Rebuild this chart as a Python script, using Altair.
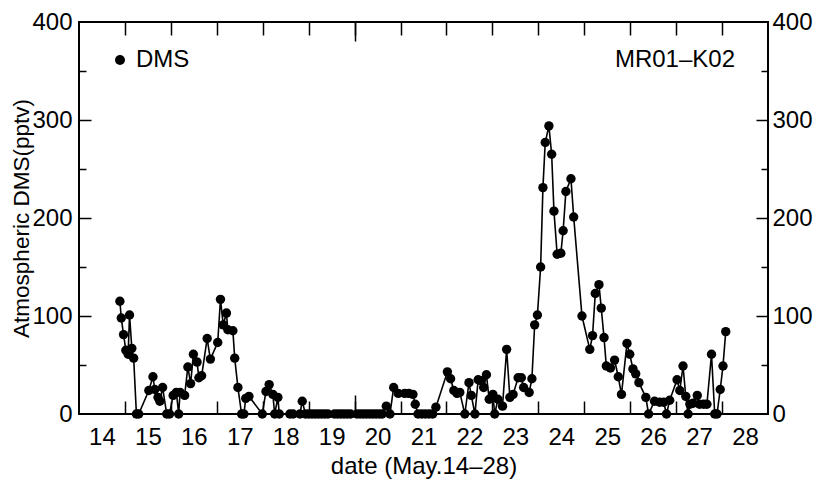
import altair as alt
import pandas as pd

# ---- data ----
day = [
    14.39, 14.42, 14.47, 14.52, 14.57, 14.60, 14.65, 14.69, 14.75, 14.80,
    15.02, 15.11, 15.15, 15.22, 15.26, 15.32, 15.41, 15.47, 15.55, 15.62,
    15.67, 15.70, 15.80, 15.87, 15.93, 15.99, 16.07, 16.11, 16.17, 16.29,
    16.36, 16.52, 16.58, 16.64, 16.71, 16.74, 16.85, 16.89, 16.96, 17.04,
    17.09, 17.13, 17.20, 17.49, 17.57, 17.64, 17.72, 17.76, 17.83, 17.86,
    18.09, 18.16, 18.31, 18.36, 18.43, 18.50, 18.57, 18.64, 18.71, 18.78,
    18.85, 18.92, 19.06, 19.13, 19.20, 19.27, 19.34, 19.41, 19.55, 19.62,
    19.69, 19.76, 19.83, 19.90, 19.97, 20.04, 20.10, 20.19, 20.27, 20.35,
    20.45, 20.59, 20.68, 20.77, 20.82, 20.88, 20.96, 21.04, 21.12, 21.20,
    21.27, 21.52, 21.59, 21.66, 21.73, 21.79, 21.90, 21.99, 22.04, 22.12,
    22.19, 22.25, 22.31, 22.37, 22.43, 22.51, 22.55, 22.62, 22.72, 22.81,
    22.88, 22.95, 23.06, 23.13, 23.18, 23.30, 23.36, 23.42, 23.48, 23.55,
    23.60, 23.65, 23.73, 23.79, 23.84, 23.91, 23.99, 24.04, 24.10, 24.21,
    24.27, 24.45, 24.62, 24.68, 24.74, 24.82, 24.87, 24.93, 24.98, 25.07,
    25.16, 25.24, 25.31, 25.43, 25.49, 25.56, 25.62, 25.69, 25.84, 25.90,
    26.03, 26.14, 26.23, 26.29, 26.36, 26.52, 26.58, 26.65, 26.71, 26.76,
    26.80, 26.87, 26.96, 27.01, 27.10, 27.17, 27.27, 27.34, 27.39, 27.46,
    27.52, 27.58,
]
dms = [
    115, 98, 81, 65, 61, 101, 67, 57, 0, 0,
    24, 38, 25, 17, 13, 27, 0, 0, 19, 22,
    0, 22, 19, 48, 31, 61, 53, 37, 39, 77,
    56, 73, 117, 91, 103, 86, 85, 57, 27, 0,
    0, 16, 18, 0, 23, 30, 20, 0, 17, 0,
    0, 0, 0, 13, 0, 0, 0, 0, 0, 0,
    0, 0, 0, 0, 0, 0, 0, 0, 0, 0,
    0, 0, 0, 0, 0, 0, 0, 8, 0, 27,
    21, 21, 21, 20, 10, 0, 0, 0, 0, 0,
    7, 43, 36, 24, 21, 22, 0, 32, 19, 0,
    35, 34, 27, 40, 15, 20, 0, 15, 8, 66,
    17, 20, 37, 37, 27, 22, 36, 91, 101, 150,
    231, 277, 294, 265, 207, 163, 164, 187, 227, 240,
    201, 100, 66, 80, 123, 132, 108, 78, 49, 47,
    55, 38, 20, 72, 61, 46, 41, 32, 17, 0,
    13, 12, 12, 0, 14, 35, 24, 49, 18, 0,
    10, 11, 19, 10, 10, 10, 61, 0, 0, 25,
    49, 84,
]
series_name = "DMS"
x_labels = list(range(14, 29))
x_ticks = [14.5 + i for i in range(14)]
x_long_ticks = [19.5]
y_labels = [0, 100, 200, 300, 400]
y_major = [100, 200, 300]
y_minor = [50, 150, 250, 350]
cruise = ["MR01\u2013K02"]

df = pd.DataFrame({"day": day, "dms": dms, "series": series_name})

FONT = "Liberation Sans"
FS = 24
W, H = 689, 392

xs = alt.Scale(domain=[13.5, 28.5], nice=False, zero=False)
ys = alt.Scale(domain=[0, 400], nice=False, zero=False)


def tick_axis(orient, values, size):
    return alt.Axis(orient=orient, values=values, tickSize=size, offset=-size,
                    labels=False, domain=False, grid=False, title=None,
                    tickColor="black", tickWidth=1.5)


base = alt.Chart(df)

line = base.mark_line(color="black", strokeWidth=1.6).encode(
    x=alt.X("day:Q", scale=xs, axis=alt.Axis(
        orient="bottom", values=x_labels, ticks=False, domain=False, grid=False,
        labelFontSize=FS, labelFont=FONT, labelColor="black", labelPadding=11,
        labelFlush=False, labelOverlap=False,
        title="date (May.14\u201328)", titleFontSize=24, titleFont=FONT,
        titleFontWeight="normal", titleColor="black",
        titleY=52, titleBaseline="middle")),
    y=alt.Y("dms:Q", scale=ys, axis=alt.Axis(
        orient="left", values=y_labels, ticks=False, domain=False, grid=False,
        labelFontSize=FS, labelFont=FONT, labelColor="black", labelPadding=7,
        labelFlush=False, labelOverlap=False,
        title="Atmospheric DMS(pptv)", titleFontSize=22.5, titleFont=FONT,
        titleFontWeight="normal", titleColor="black",
        titleX=-58, titleY=H / 2, titleBaseline="middle", titleAlign="center")),
)

points = base.mark_circle(size=88, opacity=1).encode(
    x=alt.X("day:Q", scale=xs, axis=tick_axis("bottom", x_ticks, 13)),
    y=alt.Y("dms:Q", scale=ys, axis=tick_axis("left", y_major, 12)),
    color=alt.Color("series:N", scale=alt.Scale(range=["black"]), legend=alt.Legend(
        orient="none", legendX=29, legendY=26, title=None,
        labelFontSize=FS, labelFont=FONT, labelColor="black", labelOffset=4,
        symbolType="circle", symbolSize=100, symbolStrokeWidth=0,
        symbolFillColor="black")),
)

ax3 = base.mark_point(opacity=0).encode(
    x=alt.X("day:Q", scale=xs, axis=tick_axis("top", x_ticks, 13)),
    y=alt.Y("dms:Q", scale=ys, axis=tick_axis("left", y_minor, 7)),
)
ax4 = base.mark_point(opacity=0).encode(
    x=alt.X("day:Q", scale=xs, axis=tick_axis("bottom", x_long_ticks, 19)),
    y=alt.Y("dms:Q", scale=ys, axis=tick_axis("right", y_major, 12)),
)
ax5 = base.mark_point(opacity=0).encode(
    x=alt.X("day:Q", scale=xs, axis=tick_axis("top", x_long_ticks, 19)),
    y=alt.Y("dms:Q", scale=ys, axis=tick_axis("right", y_minor, 7)),
)
ax6 = base.mark_point(opacity=0).encode(
    x=alt.X("day:Q", scale=xs, axis=None),
    y=alt.Y("dms:Q", scale=ys, axis=alt.Axis(
        orient="right", values=y_labels, ticks=False, domain=False, grid=False,
        labelFontSize=FS, labelFont=FONT, labelColor="black", labelPadding=4,
        labelFlush=False, labelOverlap=False, title=None)),
)

label = alt.Chart(pd.DataFrame({"name": cruise})).mark_text(
    align="right", baseline="middle", fontSize=FS, font=FONT, color="black"
).encode(text="name:N", x=alt.value(W - 33), y=alt.value(38))

chart = alt.layer(line, points, ax3, ax4, ax5, ax6, label).resolve_scale(
    x="shared", y="shared"
).resolve_axis(
    x="independent", y="independent"
).properties(
    width=W, height=H,
    autosize=alt.AutoSizeParams(type="none"),
    padding={"left": 71, "top": 14, "right": 47, "bottom": 66},
).configure_view(stroke="black", strokeWidth=2)

chart.save("out.html", embed_options={"renderer": "svg", "actions": False})
